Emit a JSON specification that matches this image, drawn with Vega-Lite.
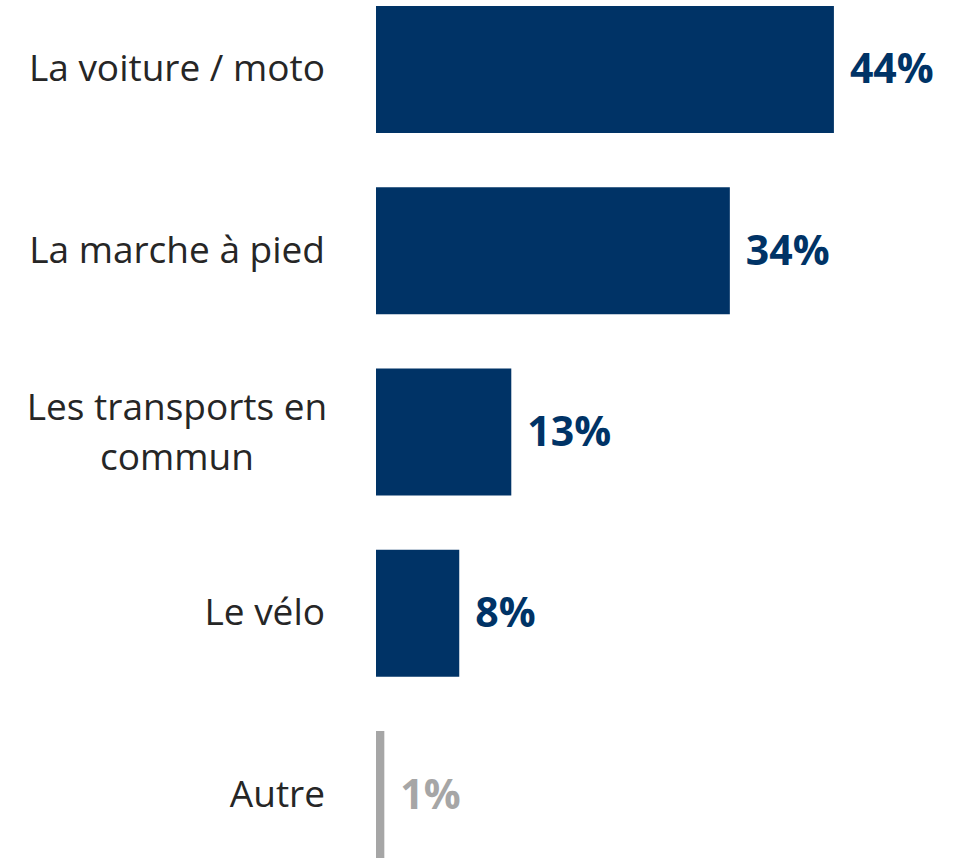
{
  "$schema": "https://vega.github.io/schema/vega-lite/v6.json",
  "width": 588,
  "height": 852,
  "autosize": "none",
  "padding": {"left": 376, "top": 6, "right": 0, "bottom": 0},
  "background": "white",
  "config": {"view": {"stroke": null}},
  "data": {
    "values": [
      {"mode": "La voiture / moto", "pct": 44, "label": "44%", "grp": "main"},
      {"mode": "La marche à pied", "pct": 34, "label": "34%", "grp": "main"},
      {"mode": "Les transports en\ncommun", "pct": 13, "label": "13%", "grp": "main"},
      {"mode": "Le vélo", "pct": 8, "label": "8%", "grp": "main"},
      {"mode": "Autre", "pct": 0.8, "label": "1%", "grp": "other"}
    ]
  },
  "encoding": {
    "y": {
      "field": "mode",
      "type": "nominal",
      "sort": null,
      "scale": {"paddingInner": 0.3, "paddingOuter": 0},
      "axis": null
    }
  },
  "layer": [
    {
      "mark": {"type": "bar"},
      "encoding": {
        "x": {"field": "pct", "type": "quantitative", "scale": {"domain": [0, 56.5], "nice": false}, "axis": null},
        "color": {"field": "grp", "type": "nominal", "scale": {"domain": ["main", "other"], "range": ["#003366", "#A6A6A6"]}, "legend": null}
      }
    },
    {
      "mark": {"type": "text", "align": "left", "baseline": "middle", "dx": 16, "dy": 2, "font": "Open Sans", "fontWeight": "bold", "fontSize": 41},
      "encoding": {
        "x": {"field": "pct", "type": "quantitative"},
        "text": {"field": "label"},
        "color": {"field": "grp", "type": "nominal", "scale": {"domain": ["main", "other"], "range": ["#003366", "#A6A6A6"]}, "legend": null}
      }
    },
    {
      "transform": [{"filter": "indexof(datum.mode, '\\n') < 0"}],
      "mark": {"type": "text", "align": "right", "baseline": "middle", "dx": -51, "dy": 1, "font": "Open Sans", "fontSize": 37, "color": "#262626"},
      "encoding": {
        "x": {"datum": 0, "type": "quantitative"},
        "text": {"field": "mode"}
      }
    },
    {
      "transform": [{"filter": "indexof(datum.mode, '\\n') >= 0"}],
      "mark": {"type": "text", "align": "center", "baseline": "middle", "dx": -199, "dy": -23, "font": "Open Sans", "fontSize": 37, "lineHeight": 50, "lineBreak": "\n", "color": "#262626"},
      "encoding": {
        "x": {"datum": 0, "type": "quantitative"},
        "text": {"field": "mode"}
      }
    }
  ]
}
